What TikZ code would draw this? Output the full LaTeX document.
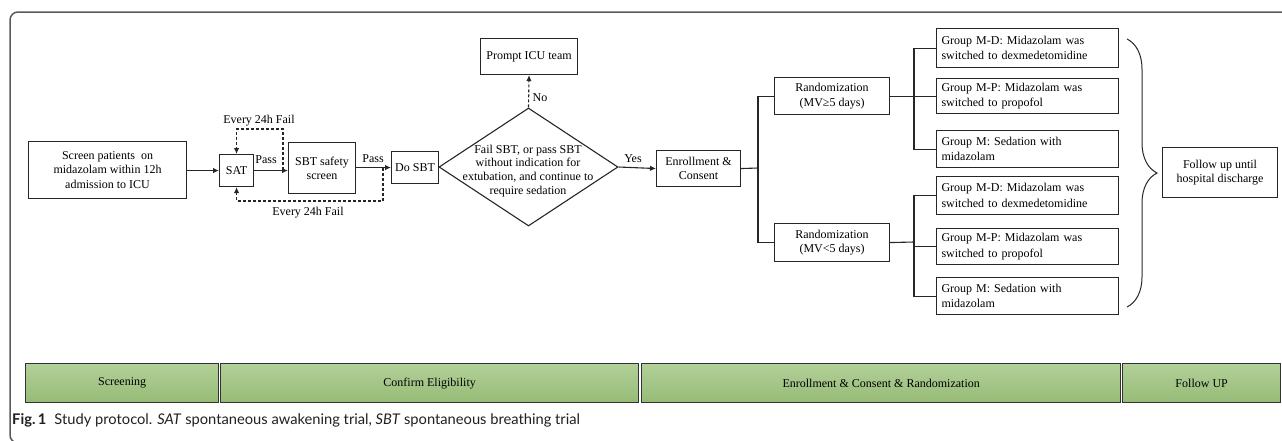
\documentclass[tikz,border=0pt]{standalone}
\usepackage{fontspec}
\setmainfont{Liberation Serif}
\newfontfamily\capfont{Lato}
\usetikzlibrary{arrows.meta,shapes.geometric,decorations.pathreplacing}
\definecolor{framegray}{HTML}{5A5A5A}
\definecolor{barlight}{HTML}{B2D099}
\definecolor{bardark}{HTML}{96BB76}
\definecolor{capcol}{HTML}{231F20}
\begin{document}
\begin{tikzpicture}[x=1pt,y=-1pt,
  fbox/.style={draw=black!85, line width=1.1pt, inner sep=0pt, align=center,
    anchor=north west, font=\fontsize{12}{14.4}\selectfont},
  gbox/.style={draw=black!85, line width=1.1pt, inner xsep=5pt, inner ysep=0pt,
    text width=172pt, align=left, anchor=north west, minimum height=#1,
    font=\fontsize{12}{15.5}\selectfont},
  lbl/.style={font=\fontsize{12}{14}\selectfont, inner sep=0pt},
  conn/.style={line width=1.1pt, draw=black!85},
  arr/.style={conn, -{Latex[length=6pt,width=5.5pt]}},
  dsh/.style={arr, dash pattern=on 3pt off 2pt},
  barbox/.style={draw=black!80, line width=1.3pt, top color=barlight, bottom color=bardark,
    anchor=north west, minimum height=39pt, inner sep=0pt, font=\fontsize{12}{14}\selectfont}
]
\useasboundingbox (0,0) rectangle (1282,440);
% outer frame
\draw[framegray, line width=1.5pt, rounded corners=8pt] (1290,12) -- (10,12) -- (10,443) -- (1290,443);

% nodes
\node[fbox, minimum width=158pt, minimum height=57pt] (screen) at (28,141)
  {Screen patients~ on\\midazolam within 12h\\admission to ICU};
\node[fbox, minimum width=34pt, minimum height=32pt] (sat) at (219,154) {SAT};
\node[fbox, minimum width=67pt, minimum height=51pt] (sbt) at (288,142) {SBT safety\\screen};
\node[fbox, minimum width=47pt, minimum height=32pt] (dosbt) at (391,151) {Do SBT};
\node[diamond, draw=black!85, line width=1.1pt, minimum width=179pt, minimum height=118pt,
  inner sep=0pt] (dia) at (528.5,167) {};
\node[align=center, inner sep=0pt, font=\fontsize{12}{13.8}\selectfont] (diatext) at (528,171)
  {Fail SBT, or pass SBT\\without indication for\\extubation, and continue to\\require sedation};
\node[fbox, minimum width=97pt, minimum height=36pt] (prompt) at (480,38) {Prompt ICU team};
\node[fbox, minimum width=84pt, minimum height=36pt] (enroll) at (656,150) {Enrollment \&\\Consent};
\node[fbox, minimum width=115pt, minimum height=37pt] (rand1) at (774,77) {Randomization\\(MV≥5 days)};
\node[fbox, minimum width=115pt, minimum height=38pt] (rand2) at (774,223) {Randomization\\(MV<5 days)};
\node[gbox=39pt] (g1) at (936,28) {Group M-D: Midazolam was\\switched to dexmedetomidine};
\node[gbox=35pt] (g2) at (936,78) {Group M-P: Midazolam was\\switched to propofol};
\node[gbox=37pt] (g3) at (936,130) {Group M: Sedation with\\midazolam};
\node[gbox=38pt] (g4) at (936,176) {Group M-D: Midazolam was\\switched to dexmedetomidine};
\node[gbox=36pt] (g5) at (936,228) {Group M-P: Midazolam was\\switched to propofol};
\node[gbox=37pt] (g6) at (936,277) {Group M: Sedation with\\midazolam};
\node[fbox, minimum width=115pt, minimum height=50pt] (follow) at (1162,147) {Follow up until\\hospital discharge};

% main flow
\draw[arr] (screen.east |- sat.west) -- (sat.west);
\draw[arr] (sat.east) -- (sat.east -| sbt.west);
\draw[arr] (sbt.east |- dosbt.west) -- (dosbt.west);
\draw[conn] (dosbt.east) -- (dia.west);
\draw[arr] (dia.east) -- (enroll.west);
\draw[dsh] (dia.north) -- (prompt.south);

% fail loops
\coordinate (d1) at (283,170);
\coordinate (t1) at (283,129);
\coordinate (d2) at (383,168);
\coordinate (b2) at (383,201);
\draw[dsh] (d1) -- (t1) -| (sat.north);
\draw[dsh] (d2) -- (b2) -| (sat.south);

% labels
\node[lbl] (pass1) at (266,160) {Pass};
\node[lbl] (pass2) at (373,159) {Pass};
\node[lbl] (fail1) at (259,121) {Every 24h Fail};
\node[lbl] (fail2) at (308,213) {Every 24h Fail};
\node[lbl] (no) at (540,98) {No};
\node[lbl] (yes) at (633,159) {Yes};

% tree
\coordinate (v0) at (758,168);
\draw[conn] (enroll.east) -- (v0);
\draw[conn] (rand1.west) -| (v0) |- (rand2.west);
\coordinate (v1) at (914,95.5);
\draw[conn] (rand1.east) -- (g2.west);
\draw[conn] (g1.west) -| (v1) |- (g3.west);
\coordinate (v2) at (914,242);
\draw[conn] (rand2.east) -- (v2);
\draw[conn] (g4.west) -| (v2) |- (g6.west);
\draw[conn] (v2 |- g5.west) -- (g5.west);

% brace
\coordinate (br1) at (1127,39);
\coordinate (br2) at (1127,307);
\draw[conn, line width=1pt, decorate, decoration={brace, amplitude=30pt}] (br1) -- (br2);

% phase bar
\node[barbox, minimum width=193pt] (ph1) at (25,363) {Screening};
\node[barbox, minimum width=418pt] (ph2) at (220,363) {Confirm Eligibility};
\node[barbox, minimum width=479pt] (ph3) at (641,363) {Enrollment \& Consent \& Randomization};
\node[barbox, minimum width=158pt] (ph4) at (1122,363) {Follow UP};

% caption
\node[anchor=base west, inner sep=0pt, text=capcol, font=\capfont\fontsize{14.7}{17}\selectfont] (cap) at (12,424)
  {\textbf{Fig.\,1}\hspace{8pt}Study protocol. \textit{SAT} spontaneous awakening trial, \textit{SBT} spontaneous breathing trial};
\end{tikzpicture}
\end{document}
